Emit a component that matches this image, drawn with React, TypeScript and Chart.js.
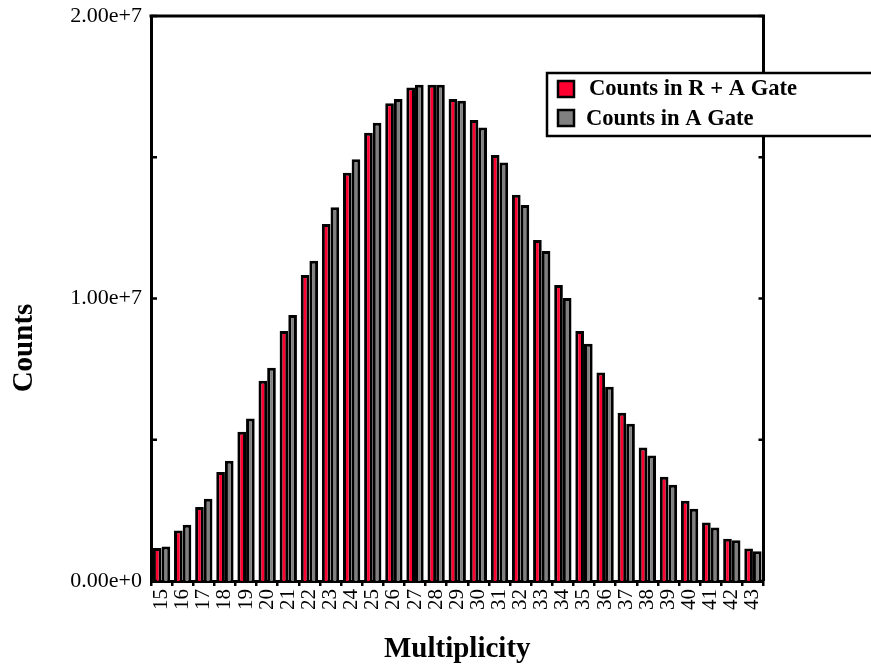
import React, { useEffect, useRef } from "react";
import { Chart, registerables } from "chart.js";

Chart.register(...registerables);

const multiplicity = ["15","16","17","18","19","20","21","22","23","24","25","26","27","28","29","30","31","32","33","34","35","36","37","38","39","40","41","42","43"];
const countsRA = [1.17e6, 1.79e6, 2.62e6, 3.86e6, 5.28e6, 7.09e6, 8.85e6, 10.83e6, 12.64e6, 14.45e6, 15.87e6, 16.91e6, 17.47e6, 17.57e6, 17.06e6, 16.32e6, 15.08e6, 13.67e6, 12.07e6, 10.48e6, 8.85e6, 7.38e6, 5.96e6, 4.73e6, 3.69e6, 2.84e6, 2.07e6, 1.50e6, 1.15e6];
const countsA = [1.22e6, 1.99e6, 2.91e6, 4.26e6, 5.75e6, 7.55e6, 9.42e6, 11.34e6, 13.23e6, 14.93e6, 16.22e6, 17.06e6, 17.57e6, 17.57e6, 17.00e6, 16.05e6, 14.81e6, 13.31e6, 11.68e6, 10.02e6, 8.40e6, 6.88e6, 5.57e6, 4.44e6, 3.41e6, 2.56e6, 1.89e6, 1.44e6, 1.05e6];
const seriesLabels = ["Counts in R + A Gate", "Counts in A Gate"];
const yTitle = "Counts";
const xTitle = "Multiplicity";

const SERIF = "'Liberation Serif', 'DejaVu Serif', serif";
const RED = "#ff0030";
const GRAY = "#808080";

const framePlugin = {
  id: "frameAndLegend",
  afterDraw(chart: any) {
    const ctx = chart.ctx;
    const a = chart.chartArea;
    const ys = chart.scales.y;
    ctx.save();
    ctx.strokeStyle = "#000";
    ctx.lineWidth = 3;
    ctx.beginPath();
    ctx.moveTo(a.left - 1.5, a.top);
    ctx.lineTo(a.right + 1.5, a.top);
    ctx.moveTo(a.right, a.top);
    ctx.lineTo(a.right, a.bottom);
    ctx.stroke();
    // inward ticks on both y sides
    ctx.lineWidth = 2.5;
    ys.ticks.forEach((t: any) => {
      const py = ys.getPixelForValue(t.value);
      ctx.beginPath();
      ctx.moveTo(a.left, py);
      ctx.lineTo(a.left + 6, py);
      ctx.moveTo(a.right, py);
      ctx.lineTo(a.right - 5, py);
      ctx.stroke();
    });
    // y title
    ctx.fillStyle = "#000";
    ctx.font = `bold 29px ${SERIF}`;
    ctx.textAlign = "center";
    ctx.textBaseline = "middle";
    ctx.translate(25, 348);
    ctx.rotate(-Math.PI / 2);
    ctx.fillText(yTitle, 0, 0);
    ctx.restore();

    // legend
    ctx.save();
    const bx = 547, by = 73, bw = 400, bh = 63;
    ctx.fillStyle = "#fff";
    ctx.fillRect(bx, by, bw, bh);
    ctx.strokeStyle = "#000";
    ctx.lineWidth = 2.5;
    ctx.strokeRect(bx, by, bw, bh);
    const items = chart.data.datasets.map((d: any, i: number) => ({
      label: d.label,
      color: d.backgroundColor,
      sy: i === 0 ? 81 : 110,
      tx: i === 0 ? 589 : 586,
      ty: i === 0 ? 89 : 119,
    }));
    ctx.font = `bold 22.6px ${SERIF}`;
    ctx.textAlign = "left";
    ctx.textBaseline = "middle";
    items.forEach((it: any) => {
      ctx.fillStyle = it.color;
      ctx.fillRect(558, it.sy, 16, 16);
      ctx.lineWidth = 2.5;
      ctx.strokeStyle = "#000";
      ctx.strokeRect(558, it.sy, 16, 16);
      ctx.fillStyle = "#000";
      ctx.fillText(it.label, it.tx, it.ty);
    });
    ctx.restore();
  },
};

export default function App() {
  const ref = useRef<HTMLCanvasElement | null>(null);
  useEffect(() => {
    if (!ref.current) return;
    const chart = new Chart(ref.current, {
      type: "bar",
      data: {
        labels: multiplicity,
        datasets: [
          {
            label: seriesLabels[0],
            data: countsRA,
            backgroundColor: RED,
            borderColor: "#000",
            borderWidth: 3,
            categoryPercentage: 0.82,
            barPercentage: 1.0,
          },
          {
            label: seriesLabels[1],
            data: countsA,
            backgroundColor: GRAY,
            borderColor: "#000",
            borderWidth: 3,
            categoryPercentage: 0.82,
            barPercentage: 1.0,
          },
        ],
      },
      options: {
        responsive: false,
        animation: false,
        layout: { padding: { top: 16, right: 107.5, left: 0, bottom: 0 } },
        plugins: {
          legend: { display: false },
          tooltip: { enabled: false },
        },
        scales: {
          x: {
            afterFit: (s: any) => { s.height = 86; s.paddingLeft = 0; s.paddingRight = 0; },
            grid: {
              display: true,
              drawOnChartArea: false,
              drawTicks: true,
              tickLength: 5,
              color: "#000",
              lineWidth: 2.5,
              offset: true,
            },
            border: { display: true, color: "#000", width: 3 },
            ticks: {
              autoSkip: false,
              maxRotation: 90,
              minRotation: 90,
              padding: 3,
              color: "#000",
              font: { family: SERIF, size: 21 },
            },
            title: {
              display: true,
              text: xTitle,
              color: "#000",
              font: { family: SERIF, size: 29, weight: "bold" },
              padding: { top: 0, bottom: 0 },
            },
          },
          y: {
            min: 0,
            max: 2e7,
            afterFit: (s: any) => { s.width = 151; s.paddingTop = 0; s.paddingBottom = 0; },
            grid: { display: false, drawTicks: false },
            border: { display: true, color: "#000", width: 3 },
            ticks: {
              stepSize: 5e6,
              padding: 9,
              color: "#000",
              font: { family: SERIF, size: 22 },
              callback: (v: any) => (Number(v) % 1e7 === 0 ? Number(v).toExponential(2) : ""),
            },
          },
        },
      },
      plugins: [framePlugin],
    });
    return () => chart.destroy();
  }, []);
  return (
    <div style={{ position: "fixed", left: 0, top: 0, width: 871, height: 667, background: "#fff" }}>
      <canvas ref={ref} width={871} height={667} />
    </div>
  );
}
